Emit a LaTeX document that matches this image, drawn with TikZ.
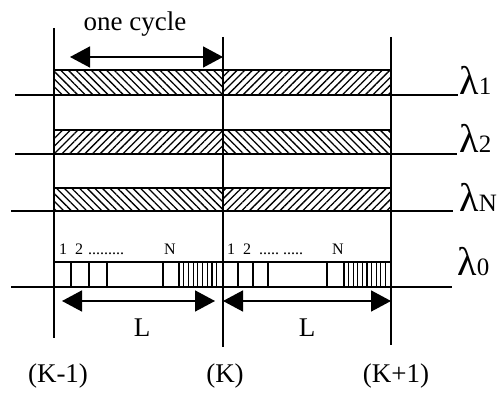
\documentclass[tikz,border=0pt]{standalone}
\usepackage{fontspec}
\setmainfont{Liberation Serif}
\usetikzlibrary{arrows.meta,patterns.meta}
\tikzset{
  cline/.style   ={line width=0.7pt},
  tline/.style   ={line width=0.8pt},
  wbar/.style    ={draw, line width=0.8pt},
  hatchL/.style  ={wbar, pattern={Lines[angle=-45,distance=2.7pt,line width=0.65pt]}},
  hatchR/.style  ={wbar, pattern={Lines[angle=45,distance=2.7pt,line width=0.65pt]}},
  slotline/.style={line width=0.6pt},
  dimarrow/.style={{Triangle[length=10pt,width=10.5pt]}-{Triangle[length=10pt,width=10.5pt]}, line width=0.8pt},
  txt/.style     ={inner sep=0pt, font=\fontsize{13.5}{14}\selectfont},
  wlabel/.style  ={anchor=base west, inner sep=0pt},
  slotlabel/.style={anchor=base, inner sep=0pt, font=\fontsize{8}{9}\selectfont},
}
\newcommand{\wlam}[1]{{\fontsize{20}{20}\selectfont λ}{\fontsize{12.5}{13}\selectfont #1}}

\begin{document}
\begin{tikzpicture}[x=0.5pt, y=-0.5pt]
  \useasboundingbox (0,0) rectangle (502,399);
  % cycle boundaries
  \coordinate (Km1top) at (54,28);  \coordinate (Km1bot) at (54,338);
  \coordinate (Ktop)   at (223,37); \coordinate (Kbot)   at (223,347);
  \coordinate (Kp1top) at (391,37); \coordinate (Kp1bot) at (391,345);
  % wavelength bars
  \draw[hatchL] (54,70)  rectangle (223,95);
  \draw[hatchR] (223,70) rectangle (391,95);
  \draw[hatchR] (54,130) rectangle (223,154);
  \draw[hatchL] (223,130) rectangle (391,154);
  \draw[hatchL] (54,188) rectangle (223,211);
  \draw[hatchR] (223,188) rectangle (391,211);
  \draw[wbar]   (54,262) rectangle (391,287);
  % control channel slots
  \foreach \x in {71,89,107,163,238,253,268,327}
    \draw[slotline] (\x,262) -- (\x,287);
  \foreach \x in {179,183.7,...,217,344,348.6,...,386}
    \draw[slotline] (\x,262) -- (\x,287);
  % channel lines
  \coordinate (l1a) at (15,95);  \coordinate (l1b) at (458,95);
  \coordinate (l2a) at (15,154); \coordinate (l2b) at (457,154);
  \coordinate (lNa) at (11,211); \coordinate (lNb) at (453,211);
  \coordinate (l0a) at (11,287); \coordinate (l0b) at (452,287);
  \draw[tline] (l1a) -- (l1b);
  \draw[tline] (l2a) -- (l2b);
  \draw[tline] (lNa) -- (lNb);
  \draw[tline] (l0a) -- (l0b);
  \draw[cline] (Km1top) -- (Km1bot);
  \draw[cline] (Ktop) -- (Kbot);
  \draw[cline] (Kp1top) -- (Kp1bot);
  % labels
  \node[wlabel] (lam1) at (459,95)  {\wlam{1}};
  \node[wlabel] (lam2) at (459,153) {\wlam{2}};
  \node[wlabel] (lamN) at (459,212) {\wlam{N}};
  \node[wlabel] (lam0) at (457,276) {\wlam{0}};
  \node[slotlabel] (s1a) at (63,255)  {1};
  \node[slotlabel] (s2a) at (79,255)  {2};
  \node[slotlabel] (sda) at (106,255) {.........};
  \node[slotlabel] (sNa) at (170,255) {N};
  \node[slotlabel] (s1b) at (231,255) {1};
  \node[slotlabel] (s2b) at (247,255) {2};
  \node[slotlabel] (sdb) at (281,255) {.....\ .....};
  \node[slotlabel] (sNb) at (338,255) {N};
  \node[txt] (cyc) at (135,24) {one cycle};
  \node[txt] (La) at (142,328) {L};
  \node[txt] (Lb) at (307,328) {L};
  \node[txt] (km1) at (58,376)  {(K-1)};
  \node[txt] (k)   at (225,376) {(K)};
  \node[txt] (kp1) at (396,376) {(K+1)};
  % dimension arrows
  \coordinate (cycA) at (70,57);  \coordinate (cycB) at (223,57);
  \coordinate (LaA)  at (62,301); \coordinate (LaB)  at (215,301);
  \coordinate (LbA)  at (223,301); \coordinate (LbB) at (391,301);
  \draw[dimarrow] (cycA) -- (cycB);
  \draw[dimarrow] (LaA) -- (LaB);
  \draw[dimarrow] (LbA) -- (LbB);
\end{tikzpicture}
\end{document}
